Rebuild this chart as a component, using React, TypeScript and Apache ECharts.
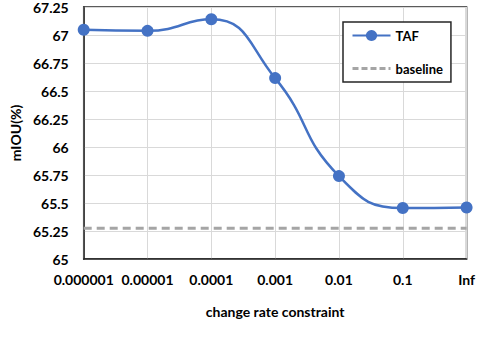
import React, { useEffect, useRef } from "react";
import * as echarts from "echarts";

const categories = ["0.000001", "0.00001", "0.0001", "0.001", "0.01", "0.1", "Inf"];
const tafValues = [67.047, 67.037, 67.14, 66.615, 65.74, 65.455, 65.46];
const baselineValues = [65.275, 65.275, 65.275, 65.275, 65.275, 65.275, 65.275];
const yMin = 65;
const yMax = 67.25;
const yInterval = 0.25;

const FONT = "Lato";

export default function App() {
  const ref = useRef<HTMLDivElement>(null);
  useEffect(() => {
    if (!ref.current) return;
    const chart = echarts.init(ref.current, null, { renderer: "svg" });
    chart.setOption({
      animation: false,
      backgroundColor: "#fff",
      textStyle: { fontFamily: FONT },
      grid: {
        left: 79,
        right: 9,
        top: 6,
        bottom: 87,
        show: true,
        borderColor: "#262626",
        borderWidth: 1.5,
        backgroundColor: "transparent",
      },
      legend: {
        orient: "vertical",
        left: 343,
        top: 22,
        padding: [7, 8, 7, 8],
        itemGap: 20,
        itemWidth: 38,
        itemHeight: 14,
        borderColor: "#262626",
        borderWidth: 1.5,
        backgroundColor: "#fff",
        textStyle: { fontFamily: FONT, fontWeight: "bold", fontSize: 13, color: "#000" },
        data: [
          { name: "TAF" },
          { name: "baseline", itemStyle: { opacity: 0 }, lineStyle: { color: "#a5a5a5", width: 3, type: [6, 3] } },
        ],
      },
      xAxis: {
        type: "category",
        data: categories,
        boundaryGap: false,
        name: "change rate constraint",
        nameLocation: "middle",
        nameGap: 45,
        nameTextStyle: { fontFamily: FONT, fontWeight: "bold", fontSize: 14, color: "#000" },
        axisLine: { lineStyle: { color: "#262626", width: 1.5 } },
        axisTick: { show: false },
        axisLabel: { fontFamily: FONT, fontWeight: "bold", fontSize: 14, color: "#000", margin: 13, interval: 0 },
        splitLine: { show: true, lineStyle: { color: "#d9d9d9", width: 1 } },
      },
      yAxis: {
        type: "value",
        min: yMin,
        max: yMax,
        interval: yInterval,
        name: "mIOU(%)",
        nameLocation: "middle",
        nameGap: 53,
        nameTextStyle: { fontFamily: FONT, fontWeight: "bold", fontSize: 14, color: "#000" },
        axisLine: { show: true, lineStyle: { color: "#262626", width: 1.5 } },
        axisTick: { show: false },
        axisLabel: { fontFamily: FONT, fontWeight: "bold", fontSize: 14, color: "#000", margin: 15 },
        splitLine: { show: true, lineStyle: { color: "#d9d9d9", width: 1 } },
      },
      series: [
        {
          name: "baseline",
          type: "line",
          data: baselineValues,
          symbol: "none",
          lineStyle: { color: "#a5a5a5", width: 3, type: [8, 5] },
          itemStyle: { color: "#a5a5a5" },
          z: 2,
        },
        {
          name: "TAF",
          type: "line",
          data: tafValues,
          smooth: 0.5,
          symbol: "circle",
          symbolSize: 12,
          lineStyle: { color: "#4472c4", width: 2.5 },
          itemStyle: { color: "#4472c4" },
          z: 3,
        },
      ],
    });
    return () => chart.dispose();
  }, []);
  return <div ref={ref} style={{ width: 478, height: 346, position: "absolute", left: 0, top: 0 }} />;
}
